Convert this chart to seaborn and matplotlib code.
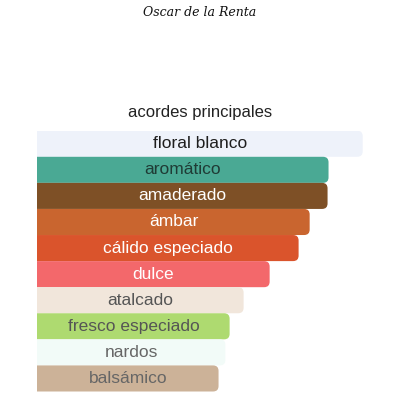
import matplotlib
matplotlib.use("Agg")
import matplotlib.pyplot as plt
import seaborn as sns
import pandas as pd
from matplotlib.patches import FancyBboxPatch

# accords, strongest first
accords = ["floral blanco", "aromático", "amaderado", "ámbar", "cálido especiado",
           "dulce", "atalcado", "fresco especiado", "nardos", "balsámico"]
strength = [100, 89.5, 89.2, 83.7, 80.3, 71.4, 63.4, 59.1, 57.8, 55.7]
bar_colors = ["#eef2fa", "#4aa994", "#7e5026", "#c9652f", "#da542c",
              "#f3686b", "#f1e6db", "#aeda70", "#f2fbf8", "#ccb298"]
text_colors = ["#1e1e1e", "#1f3b35", "#ffffff", "#ffffff", "#ffffff",
               "#ffffff", "#555555", "#555555", "#666666", "#666666"]

df = pd.DataFrame({"accord": accords, "strength": strength})

sns.set_theme(style="white")
plt.rcParams["font.family"] = ["Liberation Sans", "DejaVu Sans"]

fig = plt.figure(figsize=(4, 4), dpi=100)
ax = fig.add_axes([37.3 / 400, (400 - 391.5) / 400, (362.7 - 37.3) / 400, (391.5 - 130.7) / 400])

sns.barplot(data=df, x="strength", y="accord", hue="accord", palette=bar_colors,
            saturation=1, legend=False, width=1.0, ax=ax, orient="h")
ax.set_xlim(0, 100)
ax.set_ylim(len(accords) - 0.5, -0.5)
ax.axis("off")

# swap each bar for one with a rounded right end (left end hidden past x=0)
fig.canvas.draw()
bbox = ax.get_window_extent()
px_x = 100 / bbox.width
px_y = len(accords) / bbox.height
rx = 5.5 * px_x
bars = list(ax.patches)
for patch in bars:
    x0, y0 = patch.get_x(), patch.get_y()
    w, h = patch.get_width(), patch.get_height()
    fc = patch.get_facecolor()
    patch.set_visible(False)
    ax.add_patch(FancyBboxPatch((x0 - 3 * rx, y0), w + 3 * rx, h,
                                boxstyle=f"round,pad=0,rounding_size={rx}",
                                mutation_aspect=px_y / px_x,
                                facecolor=fc, edgecolor="none"))

for i, (name, val, tc) in enumerate(zip(accords, strength, text_colors)):
    ax.text(val / 2, i, name, ha="center", va="center", fontsize=12.5, color=tc)

fig.text(0.5, 1 - 112 / 400, "acordes principales", ha="center", va="center",
         fontsize=12, color="#222222")
fig.text(0.5, 1 - 13 / 400, "Oscar de la Renta", ha="center", va="center",
         fontsize=9, color="#111111", style="italic", family="DejaVu Serif")

fig.savefig("out.png", dpi=100, facecolor="white")
